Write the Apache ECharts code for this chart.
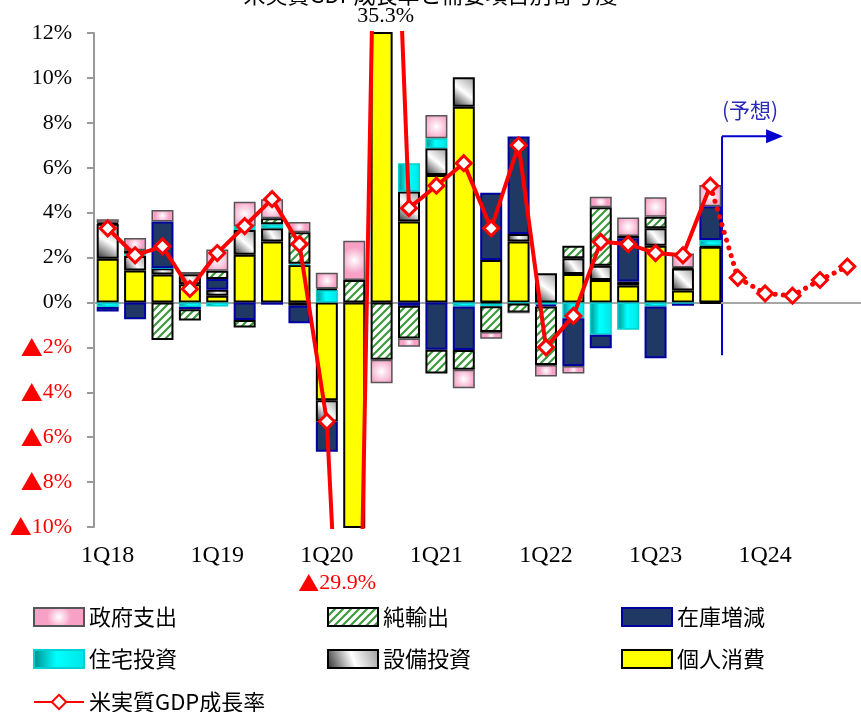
<!DOCTYPE html>
<html><head><meta charset="utf-8">
<script src="https://cdn.jsdelivr.net/npm/echarts@6/dist/echarts.min.js"></script>
<style>html,body{margin:0;padding:0;background:#fff}#c{width:861px;height:712px}</style>
</head><body><div id="c"></div>
<script>
// ---- data ----
const quarters = ['1Q18','2Q18','3Q18','4Q18','1Q19','2Q19','3Q19','4Q19','1Q20','2Q20','3Q20','4Q20',
  '1Q21','2Q21','3Q21','4Q21','1Q22','2Q22','3Q22','4Q22','1Q23','2Q23','3Q23','4Q23',
  '1Q24','2Q24','3Q24','4Q24'];
const consumption = [1.95,1.42,1.25,0.81,0.30,2.12,2.71,1.67,-4.35,-24.5,25.3,3.60,5.68,8.72,1.89,2.71,0,1.27,1.00,0.75,2.52,0.53,2.48];
const equipment   = [1.55,0.65,0.27,0.45,0.27,1.11,0.59,-0.15,-0.95,-4.0,3.1,1.34,1.19,1.31,-0.05,0.34,1.30,0.70,0.64,0.18,0.78,0.98,0.05];
const housing     = [-0.20,0.10,0,-0.20,-0.18,0.18,0.18,0.05,0.55,-0.9,1.6,1.26,0.44,-0.18,-0.12,-0.05,-0.10,-0.70,-1.44,-1.22,-0.18,-0.10,0.25];
const inventory   = [-0.20,-0.75,2.08,-0.10,0.48,-0.78,-0.10,-0.78,-1.35,-3.2,8.9,-0.15,-2.11,-1.94,3.00,4.34,-0.08,-2.13,-0.60,1.93,-2.31,0,1.50];
const netExports  = [0.05,0.15,-1.67,-0.50,0.36,-0.33,0.27,1.41,0.07,1.0,-2.55,-1.45,-1.05,-0.88,-1.15,-0.40,-2.60,0.55,2.60,0.10,0.52,0.05,-0.05];
const government  = [0.15,0.55,0.52,0.10,0.95,1.08,0.85,0.45,0.70,1.75,-1.05,-0.37,1.04,-0.82,-0.30,0,-0.52,-0.33,0.47,0.82,0.86,0.62,0.95];
const gdpGrowth   = [3.3,2.1,2.5,0.6,2.2,3.4,4.6,2.6,-5.3,-29.9,35.3,4.2,5.2,6.2,3.3,7.0,-2.0,-0.6,2.7,2.6,2.2,2.1,5.2,
                     1.1,0.4,0.3,1.0,1.6];
const lastActual = 22; // index of 3Q23
const yMin = -10, yMax = 12, yStep = 2;
const outOfRangeHigh = '35.3%';
const outOfRangeLowValue = '29.9%';

// ---- styles ----
const NUM_FONT = '"Liberation Serif","Noto Sans CJK JP",serif';
const JP_FONT = '"Noto Sans CJK JP","Liberation Serif",sans-serif';

function hatch() {
  const c = document.createElement('canvas');
  c.width = 8; c.height = 8;
  const g = c.getContext('2d');
  g.fillStyle = '#ffffff'; g.fillRect(0,0,8,8);
  g.strokeStyle = '#3c9a3c'; g.lineWidth = 2.2;
  g.beginPath();
  g.moveTo(-1,9); g.lineTo(9,-1);
  g.moveTo(-1,1); g.lineTo(1,-1);
  g.moveTo(7,9); g.lineTo(9,7);
  g.stroke();
  return c;
}

const pinkFill = {type:'radial', x:0.5, y:0.5, r:0.6, colorStops:[{offset:0,color:'#ffffff'},{offset:1,color:'#f7a1c6'}]};
const whiteFill = {type:'linear', x:0, y:1, x2:1, y2:0, colorStops:[{offset:0,color:'#2a2a2a'},{offset:0.5,color:'#ffffff'},{offset:1,color:'#9a9a9a'}]};
const cyanFill = {type:'linear', x:0, y:0, x2:1, y2:0, colorStops:[{offset:0,color:'#008b8b'},{offset:0.45,color:'#00ffff'},{offset:1,color:'#00e5e5'}]};

const barBase = { type:'bar', stack:'total', barWidth:22, clip:true };
function pad(arr){ return quarters.map((q,i)=> i < arr.length ? arr[i] : null); }

const series = [
  Object.assign({}, barBase, {name:'個人消費', data:pad(consumption),
    itemStyle:{color:'#ffff00', borderColor:'#000', borderWidth:2}}),
  Object.assign({}, barBase, {name:'設備投資', data:pad(equipment),
    itemStyle:{color:whiteFill, borderColor:'#000', borderWidth:2}}),
  Object.assign({}, barBase, {name:'住宅投資', data:pad(housing),
    itemStyle:{color:cyanFill, borderColor:'#00d0d0', borderWidth:1.5}}),
  Object.assign({}, barBase, {name:'在庫増減', data:pad(inventory),
    itemStyle:{color:'#1f3864', borderColor:'#0000a0', borderWidth:2}}),
  Object.assign({}, barBase, {name:'純輸出', data:pad(netExports),
    itemStyle:{color:{image:hatch(), repeat:'repeat'}, borderColor:'#000', borderWidth:2}}),
  Object.assign({}, barBase, {name:'政府支出', data:pad(government),
    itemStyle:{color:pinkFill, borderColor:'#555', borderWidth:1.5},
    markLine:{silent:true, symbol:'none', label:{show:false}, lineStyle:{color:'#a6a6a6', width:2, type:'solid'}, data:[{yAxis:0}], z:1}}),
  {type:'line', name:'米実質GDP成長率', z:10, clip:true,
    data: gdpGrowth.map((v,i)=> i<=lastActual ? v : null),
    symbol:'diamond', symbolSize:15, showSymbol:true,
    lineStyle:{color:'#ff0000', width:4},
    itemStyle:{color:'#ffffff', borderColor:'#ff0000', borderWidth:3}},
  {type:'line', name:'予測', z:9, clip:true,
    data: gdpGrowth.map((v,i)=> i>=lastActual ? (i===lastActual ? {value:v, symbol:'none'} : v) : null),
    symbol:'diamond', symbolSize:15,
    lineStyle:{color:'#ff0000', width:5, type:[0.1,8], cap:'round'},
    itemStyle:{color:'#ffffff', borderColor:'#ff0000', borderWidth:3}}
];

const legendCommon = {orient:'horizontal', itemWidth:50, itemHeight:18, padding:0,
  textStyle:{fontSize:22, fontFamily:JP_FONT, color:'#000'}};
const rowTops = [606, 648, 691];
const colLefts = [33, 327, 621];
const legendRows = [
  ['政府支出','純輸出','在庫増減'],
  ['住宅投資','設備投資','個人消費']
];
const legends = [];
legendRows.forEach((row, r) => row.forEach((name, c) => {
  legends.push(Object.assign({}, legendCommon, {left:colLefts[c], top:rowTops[r], data:[{name:name, icon:'rect'}]}));
}));
legends.push(Object.assign({}, legendCommon, {left:colLefts[0], top:rowTops[2], data:['米実質GDP成長率']}));

const chart = echarts.init(document.getElementById('c'), null, {renderer:'canvas'});
chart.setOption({
  animation:false,
  backgroundColor:'#ffffff',
  grid:{left:94, right:-4, top:33, bottom:185, containLabel:false},
  xAxis:{type:'category', data:quarters, boundaryGap:true,
    axisLine:{lineStyle:{color:'#999', width:2}}, axisTick:{show:false},
    axisLabel:{interval:3, margin:17, fontSize:24, fontFamily:NUM_FONT, color:'#000'}},
  yAxis:{type:'value', min:yMin, max:yMax, interval:yStep,
    axisLine:{show:true, lineStyle:{color:'#999', width:2}},
    axisTick:{show:true, length:7, lineStyle:{color:'#999', width:2}},
    splitLine:{show:false},
    axisLabel:{margin:22, fontSize:22, fontFamily:NUM_FONT, color:'#000',
      formatter: v => v < 0 ? '{t|▲}{n|' + (-v) + '%}' : v + '%',
      rich:{n:{color:'#ff0000', fontSize:22, fontFamily:NUM_FONT},
            t:{color:'#ff0000', fontSize:22, fontFamily:JP_FONT}}}},
  legend: legends,
  series: series
});

// annotations positioned from the chart's own scales
const px = q => chart.convertToPixel({xAxisIndex:0}, q);
const py = v => chart.convertToPixel({yAxisIndex:0}, v);
const gridTop = py(yMax), gridBottom = py(yMin);
const xb = (px(quarters[lastActual]) + px(quarters[lastActual+1])) / 2 - 2;
const yArrow = py(7.4), yLow = py(-2.35);
const blue = '#0000cc';
chart.setOption({graphic:[
  {type:'text', left:'center', top:-16, style:{text:'米実質GDP成長率と需要項目別寄与度', fontSize:22, fontFamily:JP_FONT, fill:'#000'}},
  {type:'text', x:px(quarters[10])+4, y:gridTop-17, style:{text:outOfRangeHigh, fontSize:22, fontFamily:NUM_FONT, fill:'#000', align:'center', verticalAlign:'middle'}},
  {type:'text', x:px(quarters[9])-17, y:gridBottom+56, style:{text:'{t|▲}{n|' + outOfRangeLowValue + '}', align:'center', verticalAlign:'middle',
    rich:{t:{fontSize:21, fontFamily:JP_FONT, fill:'#ff0000'}, n:{fontSize:22, fontFamily:NUM_FONT, fill:'#ff0000'}}}},
  {type:'line', shape:{x1:xb, y1:yArrow, x2:xb, y2:yLow}, style:{stroke:blue, lineWidth:2}},
  {type:'line', shape:{x1:xb, y1:yArrow, x2:xb+46, y2:yArrow}, style:{stroke:blue, lineWidth:2}},
  {type:'polygon', shape:{points:[[xb+44,yArrow-7],[xb+61,yArrow],[xb+44,yArrow+7]]}, style:{fill:blue}},
  {type:'text', x:xb+28, y:yArrow-26, style:{text:'(予想)', fontSize:21, fontFamily:JP_FONT, fill:'#2a2ab8', align:'center', verticalAlign:'middle'}}
]});
</script>
</body></html>
